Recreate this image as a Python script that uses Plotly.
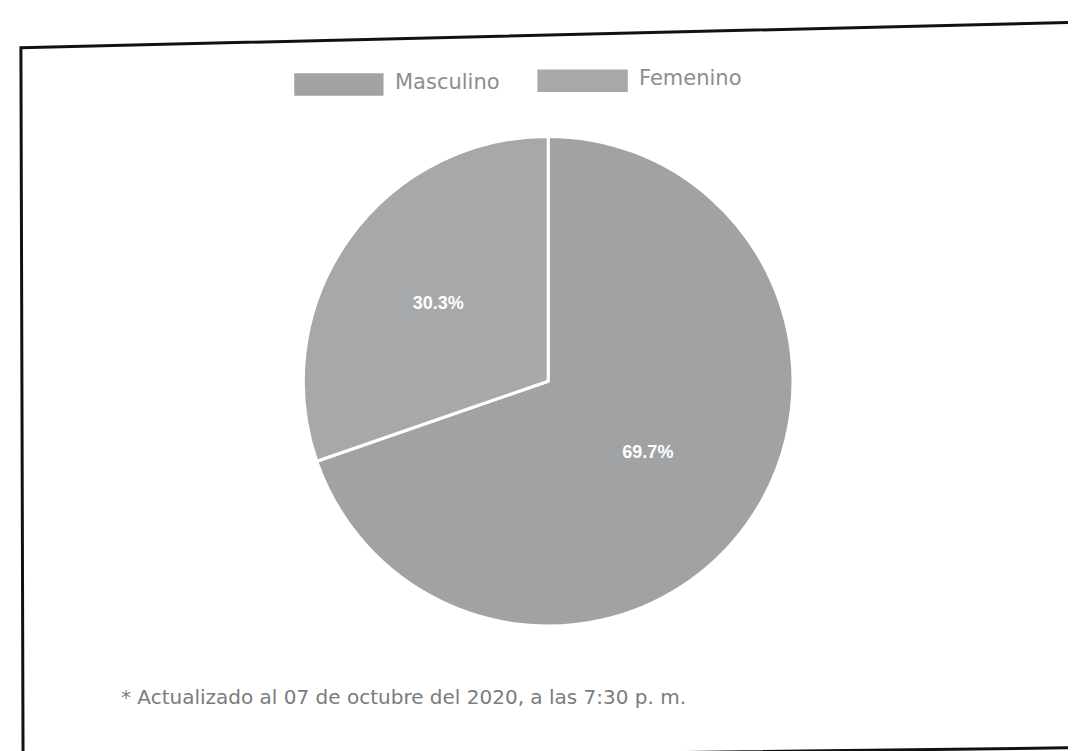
import plotly.graph_objects as go

labels = ["Masculino", "Femenino"]
values = [69.7, 30.3]
colors = ["#a0a2a4", "#a6a8aa"]
footnote = "* Actualizado al 07 de octubre del 2020, a las 7:30 p. m."

fig = go.Figure()
fig.add_trace(go.Pie(
    labels=labels,
    values=values,
    sort=False,
    direction="clockwise",
    rotation=0,
    marker=dict(colors=colors, line=dict(color="white", width=3)),
    textinfo="percent",
    texttemplate="<b>%{percent:.1%}</b>",
    textposition="inside",
    insidetextfont=dict(color="white", size=18, family="Liberation Sans, Arial, sans-serif"),
    insidetextorientation="horizontal",
    domain=dict(x=[0.270, 0.734], y=[0.177, 0.829]),
    hoverinfo="label+percent",
    showlegend=False,
))

# manual legend with wide swatches (paper coordinates)
legend_items = [
    dict(label=labels[0], color=colors[0], x0=0.266, x1=0.349, ty=0.898),
    dict(label=labels[1], color=colors[1], x0=0.492, x1=0.576, ty=0.903),
]
shapes = []
annotations = []
for it in legend_items:
    shapes.append(dict(type="rect", xref="paper", yref="paper",
                       x0=it["x0"], x1=it["x1"], y0=it["ty"] - 0.015, y1=it["ty"] + 0.015,
                       fillcolor=it["color"], line=dict(width=0)))
    annotations.append(dict(text=it["label"], xref="paper", yref="paper",
                            x=it["x1"] + 0.009, y=it["ty"] + 0.004, xanchor="left", yanchor="middle",
                            showarrow=False,
                            font=dict(size=21, color="#8c8e90", family="DejaVu Sans, sans-serif")))

annotations.append(dict(text=footnote, xref="paper", yref="paper", x=0.103, y=0.083,
                        xanchor="left", yanchor="middle", showarrow=False,
                        font=dict(size=20, color="#7a7c7e", family="DejaVu Sans, sans-serif")))

shapes.append(dict(type="path", xref="paper", yref="paper",
                   path="M 0.012,0.947 L 0.993,0.981 L 0.995,0.015 L 0.014,-0.002 Z",
                   line=dict(color="#111111", width=3), fillcolor="rgba(0,0,0,0)"))

fig.update_layout(
    width=1076, height=751,
    margin=dict(l=0, r=0, t=0, b=0),
    paper_bgcolor="white",
    plot_bgcolor="white",
    font=dict(family="Liberation Sans, Arial, sans-serif", color="#8a8c8e"),
    showlegend=False,
    annotations=annotations,
    shapes=shapes,
)

fig.write_html("out.html")
